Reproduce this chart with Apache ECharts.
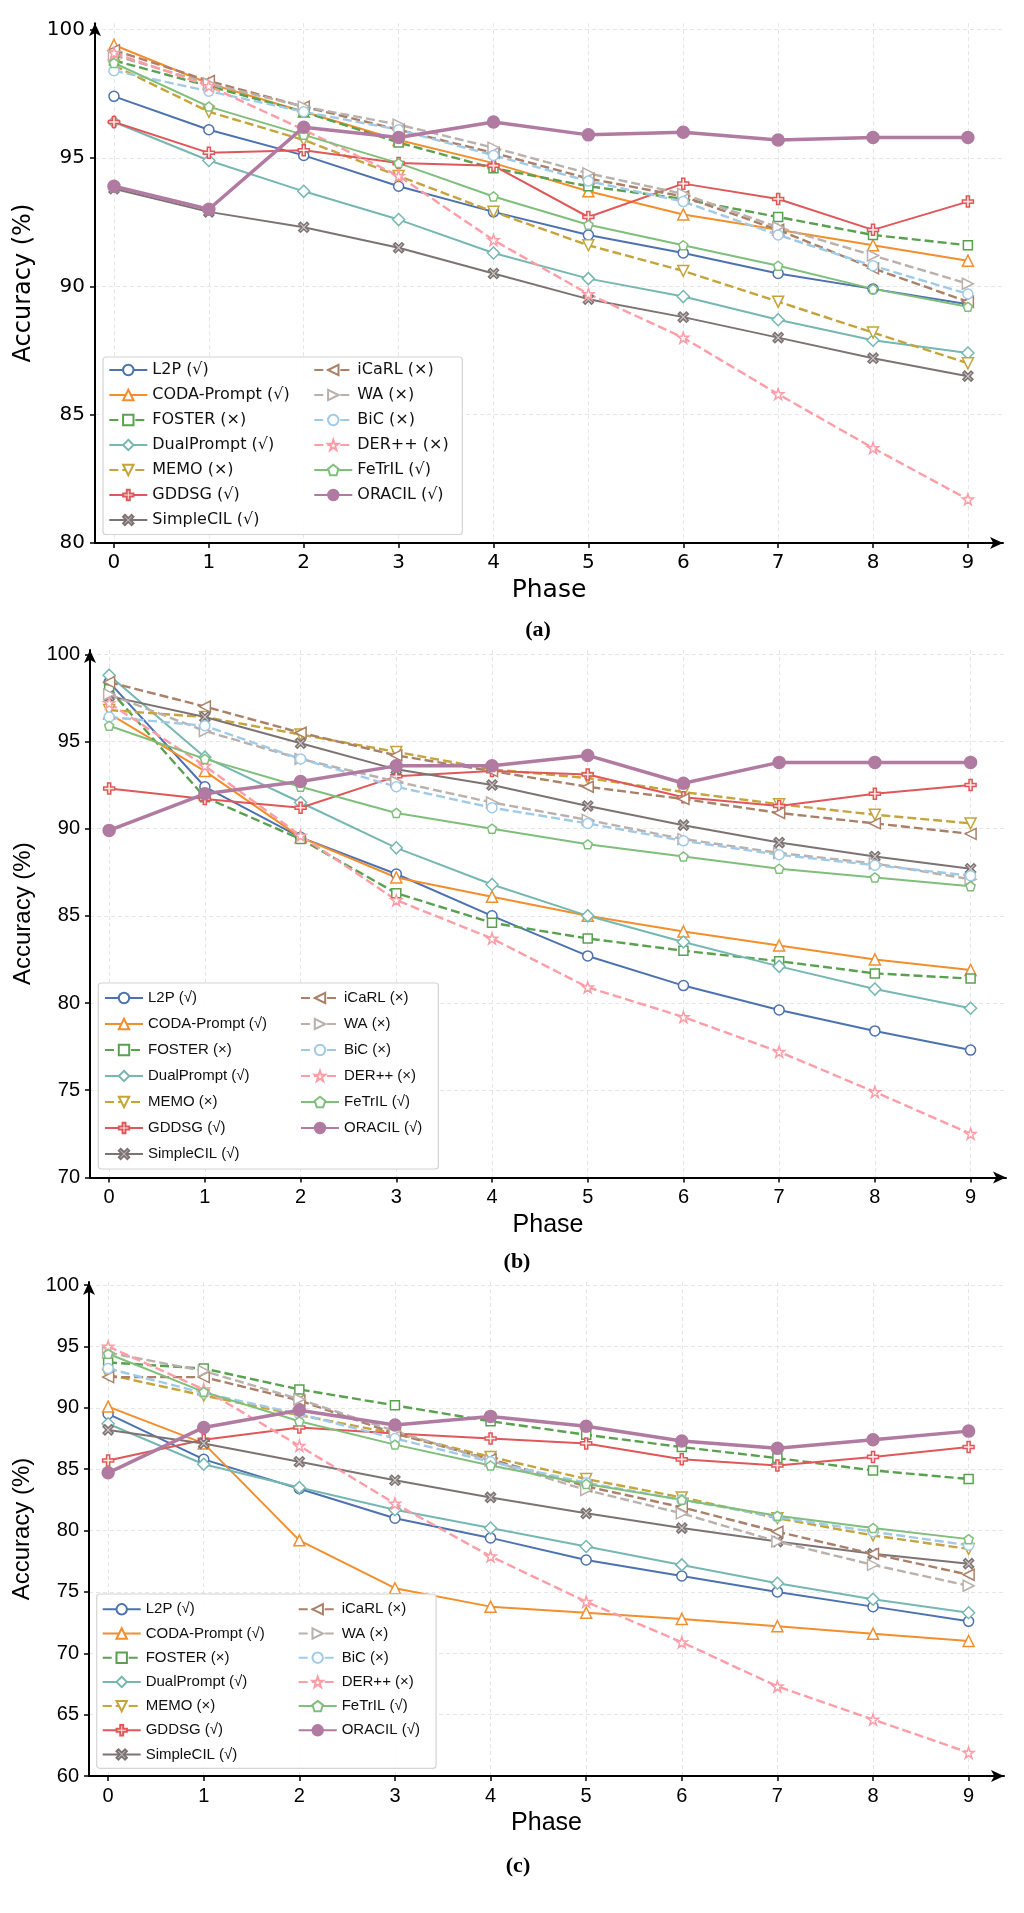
<!DOCTYPE html>
<html>
<head>
<meta charset="utf-8">
<script src="https://cdn.jsdelivr.net/npm/echarts@6/dist/echarts.min.js"></script>
<style>
  html, body { margin: 0; background: #fff; }
  #main { width: 1024px; height: 1913px; }
</style>
</head>
<body>
<div id="main"></div>
<script>
// ---- data ----
const phases = [0, 1, 2, 3, 4, 5, 6, 7, 8, 9]
const methods = [
  "L2P (√)", "CODA-Prompt (√)", "FOSTER (×)", "DualPrompt (√)", "MEMO (×)",
  "GDDSG (√)", "SimpleCIL (√)", "iCaRL (×)", "WA (×)", "BiC (×)",
  "DER++ (×)", "FeTrIL (√)", "ORACIL (√)"
]

// (a) rows follow the order of `methods`
const accA = [
  [97.4, 96.1, 95.1, 93.9, 92.9, 92.0, 91.3, 90.5, 89.9, 89.3],
  [99.4, 97.9, 96.8, 95.7, 94.8, 93.7, 92.8, 92.2, 91.6, 91.0],
  [98.8, 97.8, 96.8, 95.6, 94.6, 93.9, 93.4, 92.7, 92.0, 91.6],
  [96.4, 94.9, 93.7, 92.6, 91.3, 90.3, 89.6, 88.7, 87.9, 87.4],
  [98.6, 96.8, 95.7, 94.3, 92.9, 91.6, 90.6, 89.4, 88.2, 87.0],
  [96.4, 95.2, 95.3, 94.8, 94.7, 92.7, 94.0, 93.4, 92.2, 93.3],
  [93.8, 92.9, 92.3, 91.5, 90.5, 89.5, 88.8, 88.0, 87.2, 86.5],
  [99.2, 98.0, 97.0, 96.1, 95.2, 94.2, 93.5, 92.2, 90.7, 89.4],
  [99.0, 97.9, 97.0, 96.3, 95.4, 94.4, 93.6, 92.3, 91.2, 90.1],
  [98.4, 97.6, 96.8, 96.1, 95.1, 94.1, 93.3, 92.0, 90.8, 89.7],
  [99.1, 97.8, 96.1, 94.3, 91.8, 89.7, 88.0, 85.8, 83.7, 81.7],
  [98.7, 97.0, 95.9, 94.8, 93.5, 92.4, 91.6, 90.8, 89.9, 89.2],
  [93.9, 93.0, 96.2, 95.8, 96.4, 95.9, 96.0, 95.7, 95.8, 95.8]
]

// (b)
const accB = [
  [98.4, 92.4, 89.5, 87.4, 85.0, 82.7, 81.0, 79.6, 78.4, 77.3],
  [96.6, 93.3, 89.5, 87.2, 86.1, 85.0, 84.1, 83.3, 82.5, 81.9],
  [98.0, 91.8, 89.4, 86.3, 84.6, 83.7, 83.0, 82.4, 81.7, 81.4],
  [98.8, 94.1, 91.5, 88.9, 86.8, 85.0, 83.5, 82.1, 80.8, 79.7],
  [96.8, 96.4, 95.4, 94.4, 93.4, 92.9, 92.1, 91.4, 90.8, 90.3],
  [92.3, 91.7, 91.2, 93.0, 93.3, 93.1, 91.8, 91.3, 92.0, 92.5],
  [97.6, 96.4, 94.9, 93.4, 92.5, 91.3, 90.2, 89.2, 88.4, 87.7],
  [98.4, 97.0, 95.5, 94.2, 93.3, 92.4, 91.7, 90.9, 90.3, 89.7],
  [97.7, 95.6, 94.0, 92.7, 91.5, 90.5, 89.4, 88.6, 88.0, 87.1],
  [96.4, 95.9, 94.0, 92.4, 91.2, 90.3, 89.3, 88.5, 87.9, 87.3],
  [97.2, 93.6, 89.6, 85.9, 83.7, 80.9, 79.2, 77.2, 74.9, 72.5],
  [95.9, 94.0, 92.4, 90.9, 90.0, 89.1, 88.4, 87.7, 87.2, 86.7],
  [89.9, 92.0, 92.7, 93.6, 93.6, 94.2, 92.6, 93.8, 93.8, 93.8]
]

// (c)
const accC = [
  [89.5, 85.8, 83.4, 81.0, 79.4, 77.6, 76.3, 75.0, 73.8, 72.6],
  [90.1, 87.1, 79.2, 75.3, 73.8, 73.3, 72.8, 72.2, 71.6, 71.0],
  [93.7, 93.2, 91.5, 90.2, 88.9, 87.8, 86.8, 85.9, 84.9, 84.2],
  [88.7, 85.4, 83.5, 81.7, 80.2, 78.7, 77.2, 75.7, 74.4, 73.3],
  [92.7, 91.0, 89.4, 87.9, 86.0, 84.2, 82.7, 81.0, 79.6, 78.5],
  [85.7, 87.4, 88.4, 87.9, 87.5, 87.1, 85.8, 85.3, 86.0, 86.8],
  [88.2, 87.1, 85.6, 84.1, 82.7, 81.4, 80.2, 79.1, 78.1, 77.3],
  [92.5, 92.5, 90.6, 87.9, 85.8, 83.6, 81.9, 79.9, 78.1, 76.4],
  [94.5, 93.0, 90.7, 88.1, 85.7, 83.3, 81.4, 79.1, 77.2, 75.5],
  [93.2, 91.2, 89.5, 87.5, 85.6, 83.9, 82.5, 81.1, 79.9, 78.8],
  [95.0, 91.5, 86.9, 82.2, 77.9, 74.2, 70.9, 67.3, 64.6, 61.9],
  [94.4, 91.3, 88.9, 87.0, 85.3, 83.8, 82.5, 81.2, 80.2, 79.3],
  [84.7, 88.4, 89.8, 88.6, 89.3, 88.5, 87.3, 86.7, 87.4, 88.1]
]

const yTicksA = [80, 85, 90, 95, 100]
const yTicksB = [70, 75, 80, 85, 90, 95, 100]
const yTicksC = [60, 65, 70, 75, 80, 85, 90, 95, 100]
const tags = ["a", "b", "c"]

// ---- styling ----
const colors = [
  "#4c72b0", "#f28e2b", "#59a14f", "#76b7b2", "#c4a43b", "#e15759", "#7d7373",
  "#ab8068", "#bab0ac", "#a0cbe8", "#ff9da7", "#7fbf7b", "#b07aa1"
]
const dashed = [false, false, true, false, true, false, false, true, true, true, true, false, false]

const STAR = "path://M50,2 L61.8,36.2 L97.6,36.2 L68.6,57.4 L79.4,91.6 L50,70.4 L20.6,91.6 L31.4,57.4 L2.4,36.2 L38.2,36.2 Z"
const PENTA = "path://M50,2 L97.6,36.6 L79.4,92.6 L20.6,92.6 L2.4,36.6 Z"
const PLUS = "path://M36,0 L64,0 L64,36 L100,36 L100,64 L64,64 L64,100 L36,100 L36,64 L0,64 L0,36 L36,36 Z"
const CROSS = "path://M18,0 L50,32 L82,0 L100,18 L68,50 L100,82 L82,100 L50,68 L18,100 L0,82 L32,50 L0,18 Z"

const symbols = ["circle", "triangle", "rect", "diamond", "triangle", PLUS, CROSS,
  "triangle", "triangle", "circle", STAR, PENTA, "circle"]
const symbolSizes = [10, 11, 9, 12, 11, 11, 10, 11, 11, 10, 11, 9, 12]
const rotations = [0, 0, 0, 0, 180, 0, 0, 90, -90, 0, 0, 0, 0]
const fills = ["#fff", "#fff", "#fff", "#fff", "#fff", "#fde7e7", "#cfc8c8",
  "#fff", "#fff", "#fff", "#fff", "#fff", "#b07aa1"]

const panels = [
  {
    acc: accA, yTicks: yTicksA, font: "DejaVu Sans",
    grid: { left: 95, right: 21, top: 23.2, bottom: 1370 },
    yMin: 80, nameGapY: 48,
    legend: { left: 103, top: 357, pad: [5, 172.7, 6.5, 5.3], gap: 9, size: 16, col2: [313.3, 362] },
    title: { left: 533, top: 614 }
  },
  {
    acc: accB, yTicks: yTicksB, font: "Liberation Sans",
    grid: { left: 90, right: 18, top: 649.9, bottom: 735.6 },
    yMin: 70, nameGapY: 47,
    legend: { left: 98.3, top: 983, pad: [7.5, 171.3, 7.5, 5.7], gap: 11, size: 15, col2: [300, 990.5] },
    title: { left: 512, top: 1246 }
  },
  {
    acc: accC, yTicks: yTicksC, font: "Liberation Sans",
    grid: { left: 89, right: 20, top: 1282, bottom: 137 },
    yMin: 60, nameGapY: 47,
    legend: { left: 96.7, top: 1594, pad: [7.8, 171.3, 6.3, 5], gap: 9.2, size: 15, col2: [297.7, 1601.8] },
    title: { left: 513, top: 1850 }
  }
]

const gridLine = { show: true, lineStyle: { color: "#e6e6e6", type: [4, 3], width: 1 } }

function buildSeries(p, idx) {
  return methods.map((name, m) => ({
    type: "line",
    name,
    xAxisIndex: idx,
    yAxisIndex: idx,
    data: p.acc[m].map((v, i) => [phases[i], v]),
    symbol: symbols[m],
    symbolSize: symbolSizes[m],
    symbolRotate: rotations[m],
    lineStyle: {
      color: colors[m],
      width: m === 12 ? 3.5 : (dashed[m] ? 2.4 : 2),
      type: dashed[m] ? [9, 4] : "solid"
    },
    itemStyle: { color: fills[m], borderColor: colors[m], borderWidth: 1.5 },
    emphasis: { disabled: true }
  }))
}

function buildLegends(p) {
  const L = p.legend
  const text = { fontFamily: p.font, fontSize: L.size, color: "#111" }
  return [
    {
      data: methods.slice(0, 7),
      orient: "vertical",
      left: L.left, top: L.top,
      padding: L.pad,
      itemGap: L.gap, itemWidth: 38, itemHeight: 13,
      backgroundColor: "rgba(255,255,255,0.9)",
      borderColor: "#d4d4d4", borderWidth: 1.2, borderRadius: 3,
      textStyle: text,
      selectedMode: false
    },
    {
      data: methods.slice(7),
      orient: "vertical",
      left: L.col2[0], top: L.col2[1],
      padding: 0,
      itemGap: L.gap, itemWidth: 38, itemHeight: 13,
      textStyle: text,
      selectedMode: false,
      z: 5
    }
  ]
}

const option = {
  animation: false,
  backgroundColor: "#fff",
  title: panels.map((p, i) => ({
    text: "{p|(}{b|" + tags[i] + "}{p|)}",
    left: p.title.left, top: p.title.top,
    textAlign: "center",
    textStyle: {
      rich: {
        p: { fontFamily: "Liberation Serif", fontSize: 22, color: "#000" },
        b: { fontFamily: "Liberation Serif", fontSize: 22, fontWeight: "bold", color: "#000" }
      }
    }
  })),
  grid: panels.map(p => p.grid),
  xAxis: panels.map((p, i) => ({
    type: "value",
    gridIndex: i,
    min: -0.2,
    max: 9.37,
    name: "Phase",
    nameLocation: "middle",
    nameGap: 35,
    nameTextStyle: { fontFamily: p.font, fontSize: 25, color: "#000" },
    axisLine: { onZero: false, symbol: ["none", "arrow"], symbolSize: [9, 13], lineStyle: { color: "#000", width: 2 } },
    axisTick: { customValues: phases, length: 5, lineStyle: { color: "#000", width: 1.5 } },
    axisLabel: { customValues: phases, margin: 10, fontFamily: p.font, fontSize: 20, color: "#000" },
    splitLine: gridLine
  })),
  yAxis: panels.map((p, i) => ({
    type: "value",
    gridIndex: i,
    min: p.yMin,
    max: 100.25,
    name: "Accuracy (%)",
    nameLocation: "middle",
    nameGap: p.nameGapY,
    nameTextStyle: { fontFamily: p.font, fontSize: 24, color: "#000" },
    axisLine: { show: true, onZero: false, symbol: ["none", "arrow"], symbolSize: [9, 13], lineStyle: { color: "#000", width: 2 } },
    axisTick: { show: true, customValues: p.yTicks, length: 5, lineStyle: { color: "#000", width: 1.5 } },
    axisLabel: { customValues: p.yTicks, margin: 10, fontFamily: p.font, fontSize: 20, color: "#000" },
    splitLine: gridLine
  })),
  legend: panels.flatMap(p => buildLegends(p)),
  series: panels.flatMap((p, i) => buildSeries(p, i))
}

const chart = echarts.init(document.getElementById("main"), null, { renderer: "canvas" })
chart.setOption(option)
</script>
</body>
</html>
